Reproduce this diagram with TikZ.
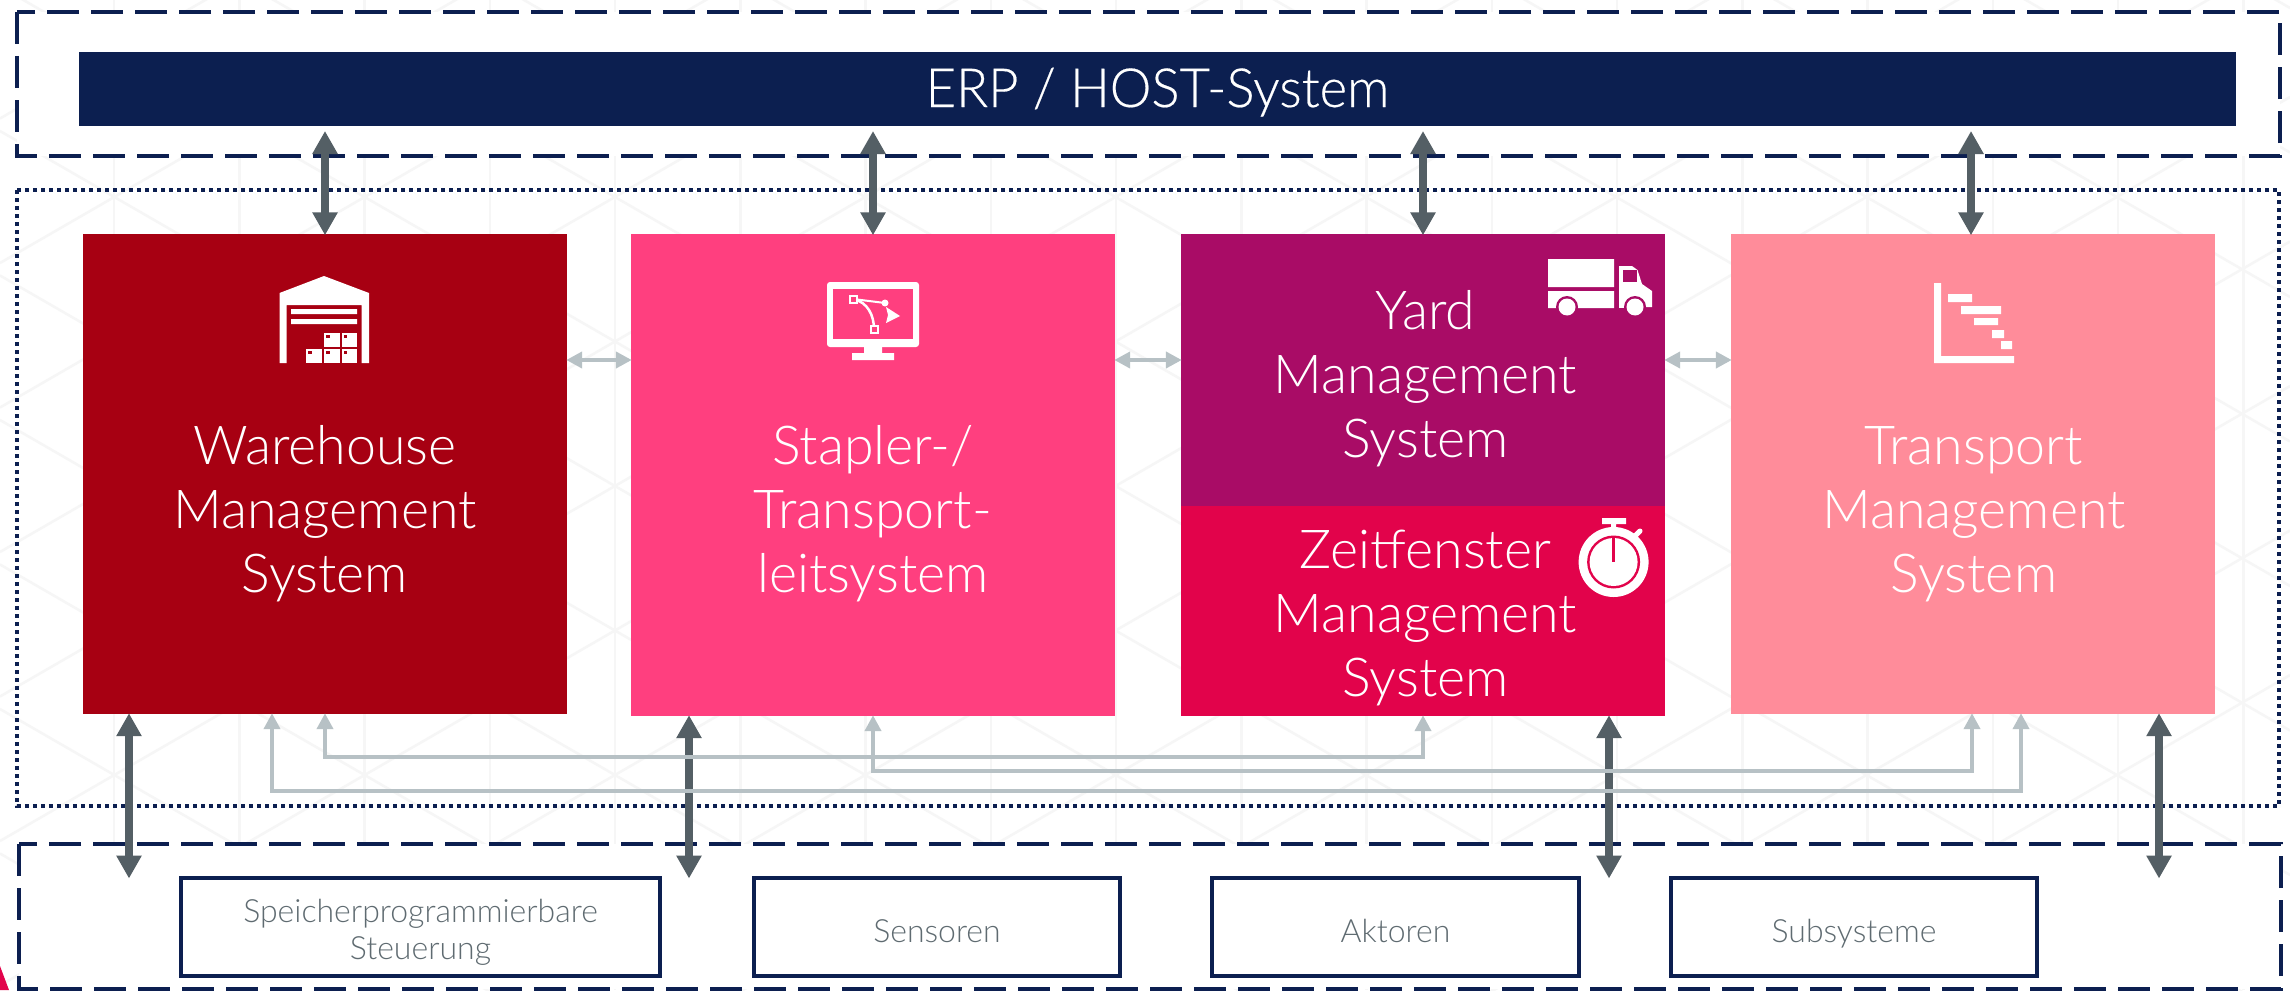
\documentclass[tikz,border=0pt]{standalone}
\usepackage{fontspec}
\setmainfont{Lato}
\newfontfamily\latolight[UprightFont=* Light]{Lato}
\newfontfamily\latoerp[UprightFont=* Light,FakeBold=0.35,FakeStretch=0.975]{Lato}
\usetikzlibrary{arrows.meta}
\definecolor{navy}{HTML}{0C1F50}
\definecolor{wmsred}{HTML}{A70012}
\definecolor{tlspink}{HTML}{FF3F7F}
\definecolor{ymspurple}{HTML}{A90C66}
\definecolor{zmscrimson}{HTML}{E2034B}
\definecolor{tmsrose}{HTML}{FF8C9A}
\definecolor{darkarrow}{HTML}{545F65}
\definecolor{lightarrow}{HTML}{B7C1C5}
\definecolor{graytext}{HTML}{5F6B71}
\definecolor{bgline}{HTML}{F6F6F6}
\tikzset{
  x=1pt,y=-1pt,
  sysbox/.style={rectangle,inner sep=0pt,minimum width=484,text=white,align=center,
    font=\latolight\fontsize{53.7}{64}\selectfont},
  subbox/.style={rectangle,draw=navy,line width=3.5,fill=white,inner sep=0pt,minimum height=98,
    text=graytext,align=center,font=\latolight\fontsize{32}{37}\selectfont},
  dashframe/.style={draw=navy,line width=3.6,dash pattern=on 32 off 12,fill=white},
  dotframe/.style={draw=navy,line width=3.8,dash pattern=on 4 off 4},
  darr/.style={draw=darkarrow,line width=8,{Triangle[length=23,width=24]}-{Triangle[length=23,width=24]},shorten >=-1.5,shorten <=-1},
  larr/.style={draw=lightarrow,line width=4.5,{Triangle[length=16,width=16]}-{Triangle[length=16,width=16]},shorten >=-1,shorten <=-1},
  icon/.style={fill=white,draw=none},
}
\begin{document}
\begin{tikzpicture}
\useasboundingbox (0,0) rectangle (2290,990);
\clip (0,0) rectangle (2290,990);
\fill[white] (0,0) rectangle (2290,990);
% background lattice
\begin{scope}[bgline,line width=2.5]
  \foreach \i in {-1,...,18}{\draw (114+125.25*\i,0) -- (114+125.25*\i,990);}
  \foreach \k in {-18,...,12}{
    \draw (0,131+144.5*\k) -- (2290,131+144.5*\k+1322);
    \draw (0,263+144.5*\k) -- (2290,263+144.5*\k-1322);
  }
\end{scope}
\fill[zmscrimson] (0,966) -- (9,990) -- (0,990) -- cycle;
% frames
\path[dashframe] (17,12) rectangle (2280,156);
\path[dashframe] (19,844) rectangle (2281,989);
\path[dotframe] (17,190) rectangle (2279,806);
% top bar
\node[rectangle,fill=navy,inner sep=0pt,minimum width=2157,minimum height=74,text=white,
  font=\latoerp\fontsize{54}{64}\selectfont] (erp) at (1157.5,89) {\rule[-12pt]{0pt}{60pt}ERP / HOST-System};
% systems
\node[sysbox,fill=wmsred,minimum height=480] (wms) at (325,474)
  {\rule{0pt}{120pt}Warehouse\\Management\\System\rule[-12pt]{0pt}{12pt}};
\node[sysbox,fill=tlspink,minimum height=482] (tls) at (873,475)
  {\rule{0pt}{118pt}Stapler-/\\Transport-\\leitsystem\rule[-12pt]{0pt}{12pt}};
\node[sysbox,fill=ymspurple,minimum height=272] (yms) at (1423,370)
  {\rule{0pt}{58pt}\hspace*{5pt}Yard\\\hspace*{5pt}Management\\\hspace*{5pt}System\rule[-12pt]{0pt}{12pt}};
\node[sysbox,fill=zmscrimson,minimum height=210] (zms) at (1423,611)
  {\rule{0pt}{54pt}\hspace*{5pt}Zeitfenster\\\hspace*{5pt}Management\\\hspace*{5pt}System\rule[-12pt]{0pt}{12pt}};
\node[sysbox,fill=tmsrose,minimum height=480] (tms) at (1973,474)
  {\rule{0pt}{120pt}\hspace*{2pt}Transport\\\hspace*{2pt}Management\\\hspace*{2pt}System\rule[-12pt]{0pt}{12pt}};
% bottom boxes
\node[subbox,minimum width=479] (sps) at (420.5,927)
  {\rule{0pt}{35pt}Speicherprogrammierbare\\Steuerung\rule[-8pt]{0pt}{8pt}};
\node[subbox,minimum width=366] (sen) at (937,927) {\rule[-8pt]{0pt}{46pt}Sensoren};
\node[subbox,minimum width=367] (akt) at (1395.5,927) {\rule[-8pt]{0pt}{46pt}Aktoren};
\node[subbox,minimum width=366] (sub) at (1854,927) {\rule[-8pt]{0pt}{46pt}Subsysteme};
% free ends
\coordinate (t1) at (325,132);
\coordinate (t2) at (873,132);
\coordinate (t3) at (1423,132);
\coordinate (t4) at (1971,132);
\coordinate (b1) at (129,877);
\coordinate (b2) at (689,877);
\coordinate (b3) at (1609,877);
\coordinate (b4) at (2159,877);
\coordinate (h) at (0,360);
\coordinate (e1a) at (325,757);
\coordinate (e1b) at (1423,757);
\coordinate (e2a) at (873,771);
\coordinate (e2b) at (1972,771);
\coordinate (e3) at (272,791);
\coordinate (e4) at (2021,791);
% dark connectors
\draw[darr] (t1) -- (wms.north);
\draw[darr] (t2) -- (tls.north);
\draw[darr] (t3) -- (yms.north);
\draw[darr] (t4) -- (t4 |- tms.north);
\draw[darr] (wms.south -| b1) -- (b1);
\draw[darr] (tls.south -| b2) -- (b2);
\draw[darr] (zms.south -| b3) -- (b3);
\draw[darr] (tms.south -| b4) -- (b4);
% light connectors
\draw[larr] (wms.east |- h) -- (tls.west |- h);
\draw[larr] (tls.east |- h) -- (yms.west |- h);
\draw[larr] (yms.east |- h) -- (tms.west |- h);
\draw[larr] (wms.south) -- (e1a) -- (e1b) -- (zms.south);
\draw[larr] (tls.south) -- (e2a) -- (e2b) -- (tms.south -| e2b);
\draw[larr] (wms.south -| e3) -- (e3) -- (e4) -- (tms.south -| e4);
% warehouse icon
\fill[icon] (279.5,363) -- (279.5,293) -- (324,276) -- (369,293) -- (369,363) -- (361.6,363) -- (361.6,305) -- (286.6,305) -- (286.6,363) -- cycle;
\fill[icon] (291,309) rectangle (357,314) (291,319) rectangle (357,324);
\foreach \ax/\ay in {324/333,341.5/333,306/349,324/349,341.5/349}{
  \fill[icon] (\ax,\ay) rectangle (\ax+15.5,\ay+14);
  \fill[wmsred] (\ax+2,\ay+2) rectangle (\ax+5.5,\ay+4.7);
}
% monitor icon
\fill[icon,rounded corners=3] (827,282) rectangle (919,347);
\fill[tlspink] (833,289) rectangle (913,339);
\fill[icon] (864,347) rectangle (882,353) (852,353) rectangle (894,360);
\draw[white,line width=2] (853,299) -- (885,303);
\draw[white,line width=2.5] (853,299) .. controls (868,302) and (874,316) .. (874,329);
\fill[icon] (885,303) circle (3.5);
\fill[icon] (886,307) -- (900,316) -- (886,323) -- (888,315) -- cycle;
\draw[white,line width=2,fill=tlspink] (849.5,295.5) rectangle (856.5,302.5);
\draw[white,line width=2,fill=tlspink] (870.5,325.5) rectangle (877.5,332.5);
% truck icon
\fill[icon] (1548,259) rectangle (1614,287) (1548,291) rectangle (1614,308);
\fill[icon] (1619,308) -- (1619,266) -- (1632,266) -- (1637.5,270) -- (1642,284) -- (1652,291) -- (1652,307) -- cycle;
\fill[ymspurple] (1623,270) rectangle (1637,282);
\fill[ymspurple] (1567,307) circle (11) (1635,307) circle (11);
\fill[icon] (1567,307) circle (8.5) (1635,307) circle (8.5);
% stopwatch icon
\fill[icon] (1602,518) rectangle (1626,524) (1611,524) rectangle (1616,532);
\draw[white,line width=5,line cap=round] (1634,537) -- (1640,531);
\fill[icon] (1613.6,562) circle (35);
\fill[zmscrimson] (1613.6,562) circle (26.5);
\fill[icon] (1613.6,562) circle (24);
\fill[zmscrimson] (1611.8,536) rectangle (1615.4,562);
% gantt icon
\fill[icon] (1934,283) rectangle (1941,356) (1934,356) rectangle (2014,363);
\fill[icon] (1948,294) rectangle (1972,302) (1961,306) rectangle (2001,314) (1974,318) rectangle (1998,325) (1992,330) rectangle (2004,338) (2001,341) rectangle (2012,349);
\end{tikzpicture}
\end{document}
